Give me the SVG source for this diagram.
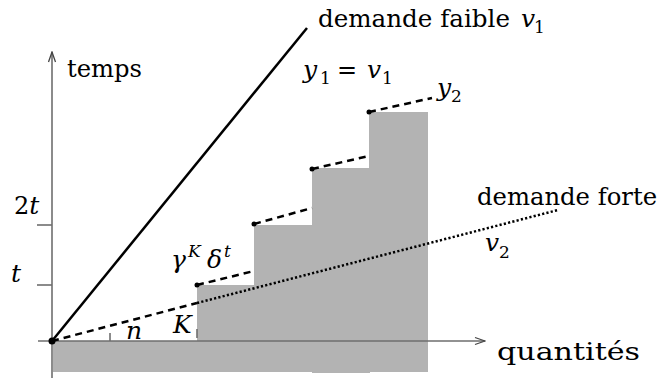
<svg xmlns="http://www.w3.org/2000/svg" width="660" height="378" viewBox="0 0 660 378">
<style>
text{font-size:24px;fill:#000}
.it{font-style:italic;font-size:25px}
.sub{font-size:17px;font-style:normal}
.sup{font-size:17px;font-style:italic}
.axis{stroke:#6e6e6e;stroke-width:1.6;fill:none}
.dash{stroke:#000;stroke-width:2.5;fill:none;stroke-dasharray:7 5}
.dot{stroke:#000;stroke-width:2.5;fill:none;stroke-dasharray:2.2 2.2}
</style>
<defs>
<marker id="arr" viewBox="0 0 12 10" refX="11" refY="5" markerWidth="12" markerHeight="10" markerUnits="userSpaceOnUse" orient="auto">
<path d="M1,1.5 L11,5 L1,8.5" fill="none" stroke="#444" stroke-width="1.3"/>
</marker>
</defs>
<g id="area">
<path d="M53,341 H197 V285 H254 V225 H312 V168 H369 V112 H428 V372 H370 V373 H312 V372 H53 Z" fill="#b3b3b3"/>
</g>
<g id="axes">
<line class="axis" x1="38" y1="341" x2="485" y2="341" marker-end="url(#arr)"/>
<line class="axis" x1="52" y1="378" x2="52" y2="52" marker-end="url(#arr)"/>
<line class="axis" x1="37" y1="285" x2="52" y2="285"/>
<line class="axis" x1="37" y1="225" x2="52" y2="225"/>
<line class="axis" x1="110" y1="333" x2="110" y2="341"/>
<line class="axis" x1="197" y1="329" x2="197" y2="338"/>
</g>
<g id="connectors">
<line x1="52" y1="341" x2="307" y2="28" stroke="#000" stroke-width="2.5"/>
<line class="dash" x1="52" y1="341" x2="197" y2="303"/>
<line class="dot" x1="197" y1="303" x2="558" y2="210"/>
<line class="dash" x1="197" y1="285" x2="254" y2="271"/>
<line class="dash" x1="254" y1="224" x2="312" y2="208"/>
<line class="dash" x1="312" y1="169" x2="369" y2="156"/>
<line class="dash" x1="369" y1="112" x2="432" y2="98"/>
<circle cx="52" cy="341" r="3.5" fill="#000"/>
<circle cx="197" cy="285" r="2.5" fill="#000"/>
<circle cx="254" cy="224" r="2.5" fill="#000"/>
<circle cx="312" cy="169" r="2.5" fill="#000"/>
<circle cx="369" cy="112" r="2.5" fill="#000"/>
</g>
<g id="labels" font-family="DejaVu Serif, Liberation Serif, serif">
<text x="67" y="77" textLength="75" lengthAdjust="spacingAndGlyphs">temps</text>
<text x="497" y="360" textLength="143" lengthAdjust="spacingAndGlyphs">quantités</text>
<text x="318" y="27" textLength="192" lengthAdjust="spacingAndGlyphs">demande faible</text>
<text class="it" x="521" y="27">v</text>
<text class="sub" x="534" y="33">1</text>
<text x="477" y="205" textLength="180" lengthAdjust="spacingAndGlyphs">demande forte</text>
<text class="it" x="303" y="78">y</text>
<text class="sub" x="320" y="84">1</text>
<text x="337" y="78">=</text>
<text class="it" x="367" y="78">v</text>
<text class="sub" x="382" y="84">1</text>
<text class="it" x="437" y="96">y</text>
<text class="sub" x="451" y="102">2</text>
<text class="it" x="485" y="251">v</text>
<text class="sub" x="499" y="258">2</text>
<text class="it" x="171" y="268">γ</text>
<text class="sup" x="188" y="257">K</text>
<text class="it" x="207" y="268">δ</text>
<text class="sup" x="224" y="257">t</text>
<text class="it" x="173" y="333">K</text>
<text class="it" x="126" y="339">n</text>
<text class="it" x="11" y="282">t</text>
<text x="14" y="214">2<tspan class="it">t</tspan></text>
</g>
</svg>
